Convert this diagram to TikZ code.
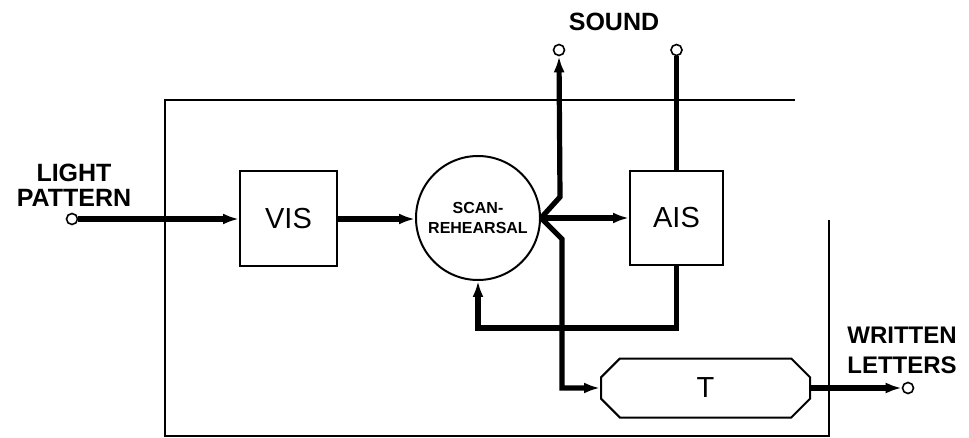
\documentclass[tikz,border=0pt]{standalone}
\usepackage{fontspec}
\setmainfont{Liberation Sans}
\usetikzlibrary{arrows.meta,shapes.misc}

\begin{document}
\begin{tikzpicture}[x=0.5pt,y=-0.5pt,
  block/.style={draw,line width=1pt,inner sep=0pt,
    font=\fontsize{14.5}{16}\selectfont},
  sig/.style={line width=2.6pt},
  sigarrow/.style={sig,-{Latex[length=8pt,width=5.5pt]}},
  term/.style={circle,draw,fill=white,line width=0.8pt,
    inner sep=0pt,minimum size=5.5pt},
  extlabel/.style={align=center,
    font=\bfseries\fontsize{12.5}{12.5}\selectfont},
  frameline/.style={line width=0.8pt}]
  \useasboundingbox (0,0) rectangle (969,438);

  % outer frame
  \draw[frameline] (795,100) -- (165,100) -- (165,436)
    -- (829,436) -- (829,220);

  % blocks
  \node[block,minimum width=48.5pt,minimum height=47.5pt]
    (vis) at (288.5,219) {VIS};
  \node[block,circle,minimum size=62pt,align=center,
    font=\bfseries\fontsize{8}{10}\selectfont]
    (scan) at (478,218) {SCAN-\\REHEARSAL};
  \node[block,minimum width=46.5pt,minimum height=47pt]
    (ais) at (676.5,218) {AIS};
  \node[block,chamfered rectangle,chamfered rectangle xsep=6.5pt,
    chamfered rectangle ysep=6.5pt,
    minimum width=104.5pt,minimum height=29.5pt]
    (tbox) at (705.5,388) {T};

  % terminals
  \node[term] (lightin) at (72,219) {};
  \node[term] (sndout) at (559,50) {};
  \node[term] (sndin) at (676.5,50) {};
  \node[term] (wrout) at (908,388) {};

  % labels
  \node[extlabel] (lightlab) at (74,185) {LIGHT\\PATTERN};
  \node[extlabel] (soundlab) at (614,22) {SOUND};
  \node[extlabel,font=\bfseries\fontsize{12}{15}\selectfont]
    (writlab) at (902,350) {WRITTEN\\LETTERS};

  % signal paths
  \draw[sigarrow] (lightin) -- (vis.west);
  \draw[sigarrow] (vis.east) -- (vis.east -| scan.west);
  \draw[sigarrow] (scan.east) -- ++(19,-21) -- (sndout.south);
  \draw[sigarrow] (scan.east) -- (ais.west);
  \draw[sigarrow] (scan.east) -- ++(21,21) |- (tbox.west);
  \draw[sig] (sndin.south) -- (ais.north);
  \draw[sigarrow] (ais.south) -- ++(0,62) -| (scan.south);
  \draw[sigarrow] (tbox.east) -- (wrout.west);
\end{tikzpicture}
\end{document}
